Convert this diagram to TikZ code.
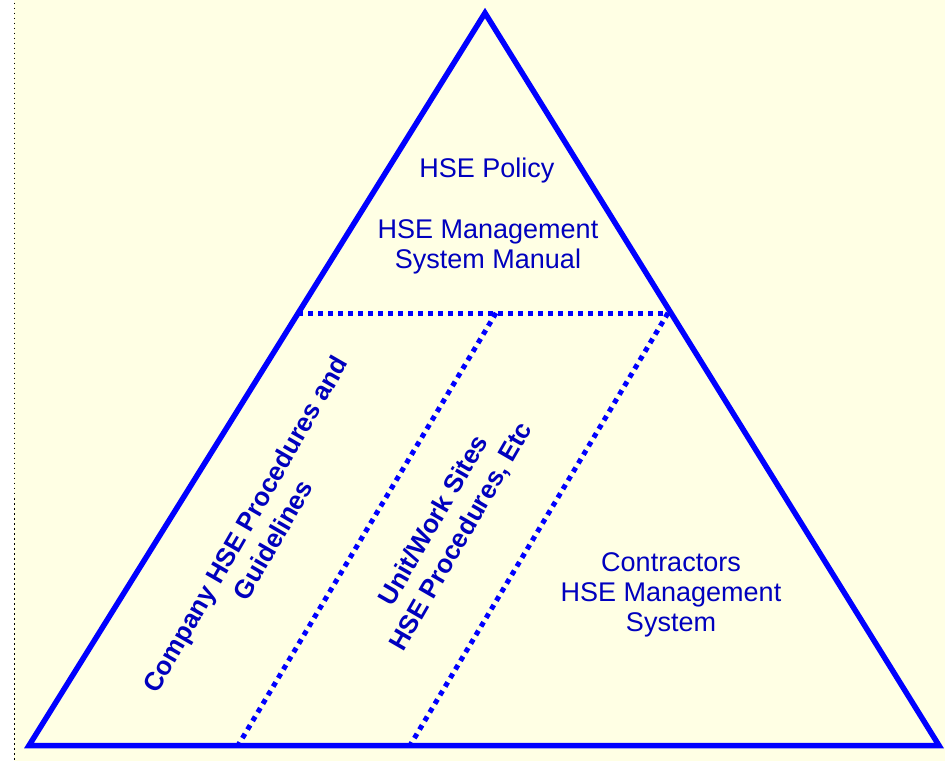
\documentclass[tikz,border=0pt]{standalone}
\usepackage{fontspec}
\setmainfont{Liberation Sans}
\usetikzlibrary{calc}
\definecolor{hseline}{RGB}{0,0,255}
\definecolor{hsetext}{RGB}{0,0,190}
\definecolor{hsepaper}{RGB}{255,255,228}
\tikzset{
  basetext/.style = {align=center, inner sep=0pt, text=hsetext},
  plain_text/.style = {basetext, font=\fontsize{27}{30}\selectfont},
  side_text/.style = {basetext, font=\bfseries\fontsize{26}{32}\selectfont, rotate=60},
  tri_line/.style = {draw=hseline, line width=5.5pt, line join=miter},
  div_line/.style = {draw=hseline, line width=5pt, dash pattern=on 5pt off 5pt},
  edge_line/.style = {draw=black, line width=1.5pt, dash pattern=on 1.5pt off 3.5pt},
}

\begin{document}
\begin{tikzpicture}[x=1pt, y=1pt]
    \useasboundingbox (0,0) rectangle (945,761);
    \fill[hsepaper] (14,0) rectangle (945,761);
    \coordinate (edgetop) at (14.5,758);
    \coordinate (edgebot) at (14.5,0);
    \draw[edge_line] (edgetop) -- (edgebot);

    \coordinate (apex) at (485,748);
    \coordinate (bl) at (29,15.5);
    \coordinate (br) at (939,15.5);
    \coordinate (lm) at ($(bl)!0.59!(apex)$);
    \coordinate (rm) at ($(br)!0.59!(apex)$);
    \coordinate (d1t) at (496,448);
    \coordinate (d1b) at (238,15.5);
    \coordinate (d2t) at (668,448);
    \coordinate (d2b) at (410,15.5);

    \draw[div_line] (lm) -- (rm);
    \draw[div_line] (d1t) -- (d1b);
    \draw[div_line] (d2t) -- (d2b);
    \draw[tri_line] (apex) -- (bl) -- (br) -- cycle;

    \node [plain_text] (policy) at (487,590) {HSE Policy};
    \node [plain_text] (manual) at (488,514) {HSE Management\\System Manual};
    \node [side_text] (company) at (259,229) {Company HSE Procedures and\\Guidelines};
    \node [side_text] (unit) at (448,232) {Unit/Work Sites\\HSE Procedures, Etc};
    \node [plain_text] (contractors) at (671,166) {Contractors\\HSE Management\\System};
\end{tikzpicture}
\end{document}
